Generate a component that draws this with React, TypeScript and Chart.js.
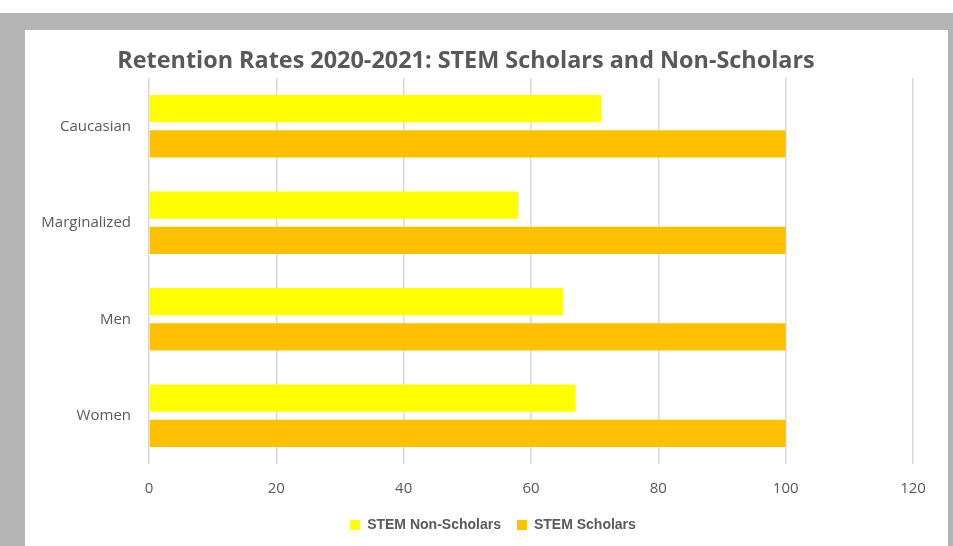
import React, { useEffect, useRef } from "react";
import { Chart, registerables } from "chart.js";

Chart.register(...registerables);

const CATEGORIES = ["Caucasian", "Marginalized", "Men", "Women"];
const NON_SCHOLARS = [71, 58, 65, 67];
const SCHOLARS = [100, 100, 100, 100];
const SERIES_NAMES = ["STEM Non-Scholars", "STEM Scholars"];
const TITLE = "Retention Rates 2020-2021: STEM Scholars and Non-Scholars";
const X_MIN = 0;
const X_MAX = 120;
const X_STEP = 20;

const TEXT = "#595959";

const titlePlugin = {
  id: "customTitle",
  afterLayout(chart: any) {
    if (chart.legend) chart.legend.left += 48;
  },
  afterDraw(chart: any) {
    const ctx = chart.ctx;
    ctx.save();
    ctx.font = "bold 23.4px 'Open Sans'";
    ctx.fillStyle = TEXT;
    ctx.textAlign = "center";
    ctx.textBaseline = "middle";
    ctx.fillText(TITLE, 441, 31);
    ctx.restore();
  },
};

export default function App() {
  const ref = useRef<HTMLCanvasElement | null>(null);
  useEffect(() => {
    if (!ref.current) return;
    const chart = new Chart(ref.current, {
      type: "bar",
      data: {
        labels: CATEGORIES,
        datasets: [
          {
            label: SERIES_NAMES[0],
            data: NON_SCHOLARS,
            backgroundColor: "#FFFF00",
            categoryPercentage: 0.73,
            barPercentage: 0.77,
          },
          {
            label: SERIES_NAMES[1],
            data: SCHOLARS,
            backgroundColor: "#FFC000",
            categoryPercentage: 0.73,
            barPercentage: 0.77,
          },
        ],
      },
      options: {
        indexAxis: "y",
        animation: false,
        responsive: false,
        maintainAspectRatio: false,
        layout: { padding: { left: 0, right: 35, top: 48, bottom: 4 } },
        plugins: {
          title: { display: false },
          tooltip: { enabled: false },
          legend: {
            position: "bottom",
            labels: {
              boxWidth: 10,
              boxHeight: 10,
              padding: 16,
              color: TEXT,
              font: { family: "'Liberation Sans', Arial", size: 14, weight: "bold" },
            },
          },
        },
        scales: {
          x: {
            min: X_MIN,
            max: X_MAX,
            ticks: {
              stepSize: X_STEP,
              color: TEXT,
              padding: 16,
              font: { family: "'Open Sans'", size: 15 },
            },
            grid: { color: "#d9d9d9", lineWidth: 1.5, drawTicks: false },
            border: { display: false },
            afterFit(scale: any) {
              scale.height = 38;
            },
          },
          y: {
            ticks: {
              color: TEXT,
              padding: 18,
              font: { family: "'Open Sans'", size: 15 },
            },
            grid: { display: false, drawTicks: false },
            border: { display: false },
            afterFit(scale: any) {
              scale.width = 124;
            },
          },
        },
      },
      plugins: [titlePlugin],
    } as any);
    return () => chart.destroy();
  }, []);

  return (
    <div style={{ position: "fixed", left: 0, top: 0, width: 953, height: 546, background: "#ffffff", overflow: "hidden" }}>
      <div style={{ position: "absolute", left: 0, top: 13, width: 953, height: 533, background: "#b5b5b5" }} />
      <div style={{ position: "absolute", left: 25, top: 30, width: 923, height: 516, background: "#ffffff" }}>
        <canvas ref={ref} width={923} height={516} style={{ display: "block", width: 923, height: 516 }} />
      </div>
    </div>
  );
}
